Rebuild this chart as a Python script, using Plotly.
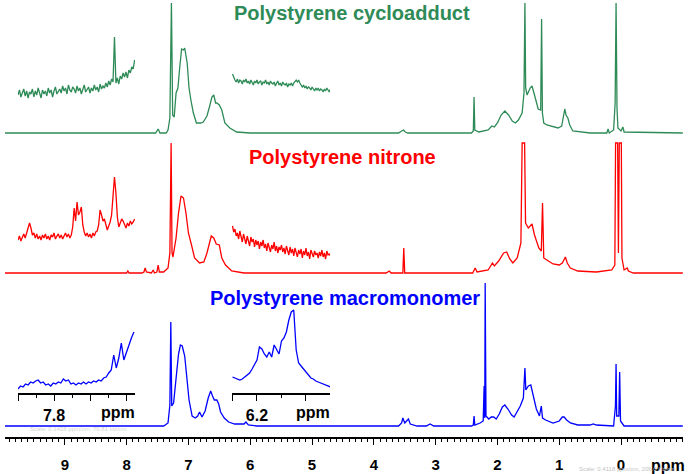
import plotly.graph_objects as go

# ---------------- data (ppm, intensity above each trace's baseline) ----------------
GREEN = [(9.97, 0), (7.53, 0), (7.49, 4), (7.46, 0), (7.36, 0), (7.33, 3), (7.30, 15), (7.275, 130),
         (7.255, 18), (7.23, 16), (7.20, 40), (7.17, 45), (7.14, 66), (7.11, 84), (7.08, 83), (7.06, 85),
         (7.02, 70), (6.99, 45), (6.96, 33), (6.92, 20), (6.87, 10), (6.80, 10), (6.76, 11), (6.70, 17),
         (6.66, 26), (6.62, 36), (6.59, 38), (6.56, 30), (6.54, 30), (6.50, 28), (6.46, 23), (6.41, 10),
         (6.33, 5), (6.22, 1), (6.0, 0), (3.60, 0), (3.55, 2), (3.52, 3), (3.49, 1), (3.45, 0),
         (2.42, 0), (2.39, 2), (2.378, 36), (2.366, 3), (2.30, 1), (2.15, 3), (2.09, 7), (2.05, 6),
         (2.00, 10), (1.94, 18), (1.88, 22), (1.82, 18), (1.76, 12), (1.71, 10), (1.66, 13), (1.60, 20),
         (1.57, 40), (1.555, 130), (1.543, 45), (1.52, 38), (1.47, 45), (1.44, 47), (1.40, 38), (1.34, 24),
         (1.30, 23), (1.285, 114), (1.272, 20), (1.25, 10), (1.20, 8), (1.10, 6), (1.02, 5), (0.96, 7),
         (0.93, 20), (0.91, 24), (0.89, 18), (0.86, 15), (0.83, 8), (0.78, 2), (0.5, 0), (0.23, 0),
         (0.21, 4), (0.19, 0), (0.12, 3), (0.095, 30), (0.08, 130), (0.065, 25), (0.05, 5), (0.0, 2),
         (-0.03, 6), (-0.05, 1), (-1.0, 0)]

RED = [(9.97, 0), (8.00, 0), (7.98, 2), (7.96, 0), (7.75, 0), (7.72, 1), (7.70, 5), (7.68, 1),
       (7.60, 0), (7.57, 3), (7.55, 0), (7.51, 1), (7.49, 8), (7.47, 1), (7.40, 1), (7.33, 5),
       (7.30, 20), (7.28, 130), (7.265, 20), (7.25, 16), (7.20, 35), (7.16, 60), (7.12, 77), (7.08, 75),
       (7.04, 60), (7.00, 40), (6.95, 28), (6.90, 15), (6.82, 10), (6.75, 11), (6.70, 20), (6.63, 37),
       (6.59, 35), (6.55, 29), (6.50, 28), (6.46, 15), (6.40, 8), (6.30, 2), (6.10, 0), (3.80, 0),
       (3.75, 2), (3.72, 0), (3.53, 0), (3.515, 25), (3.50, 0), (2.40, 0), (2.36, 5), (2.33, 1),
       (2.15, 3), (2.08, 10), (2.05, 7), (1.98, 12), (1.90, 20), (1.85, 21), (1.80, 14), (1.75, 10),
       (1.68, 15), (1.62, 30), (1.60, 130), (1.56, 130), (1.545, 50), (1.50, 45), (1.44, 49), (1.40, 38),
       (1.33, 25), (1.29, 22), (1.27, 70), (1.25, 15), (1.20, 13), (1.10, 9), (1.00, 8), (0.95, 10),
       (0.90, 16), (0.87, 10), (0.82, 5), (0.70, 2), (0.40, 1), (0.15, 3), (0.10, 8), (0.088, 130),
       (0.055, 130), (0.042, 20), (0.028, 130), (-0.005, 130), (-0.015, 15), (-0.05, 3), (-0.10, 5),
       (-0.12, 2), (-0.2, 0), (-1.0, 0)]

BLUE = [(9.97, 0), (7.40, 0), (7.33, 3), (7.30, 21), (7.285, 104), (7.27, 20), (7.24, 23), (7.20, 45),
        (7.16, 72), (7.13, 81), (7.10, 80), (7.06, 70), (7.02, 48), (6.99, 26), (6.94, 10), (6.89, 8),
        (6.85, 10), (6.82, 14), (6.78, 9), (6.73, 15), (6.68, 28), (6.64, 35), (6.61, 30), (6.58, 26),
        (6.54, 26), (6.51, 22), (6.48, 14), (6.42, 8), (6.35, 4), (6.25, 2), (6.10, 2), (6.07, 4),
        (6.03, 1), (5.9, 0), (3.60, 0), (3.55, 3), (3.53, 8), (3.50, 3), (3.47, 5), (3.44, 7),
        (3.41, 2), (3.30, 0), (3.15, 0), (3.09, 2), (3.03, 0), (2.42, 0), (2.39, 1), (2.378, 10),
        (2.366, 1), (2.28, 3), (2.23, 5), (2.215, 40), (2.205, 8), (2.198, 143), (2.185, 10), (2.14, 7),
        (2.10, 9), (2.06, 9), (2.02, 7), (1.97, 12), (1.92, 19), (1.88, 21), (1.83, 17), (1.77, 11),
        (1.73, 9), (1.68, 14), (1.63, 20), (1.58, 28), (1.555, 58), (1.54, 36), (1.50, 40), (1.46, 41),
        (1.42, 30), (1.37, 17), (1.32, 10), (1.29, 20), (1.27, 8), (1.22, 6), (1.10, 3), (1.00, 5),
        (0.95, 9), (0.92, 9), (0.88, 6), (0.82, 3), (0.70, 1), (0.50, 1), (0.45, 2), (0.40, 1),
        (0.12, 0), (0.09, 20), (0.08, 62), (0.07, 10), (0.035, 10), (0.022, 54), (0.008, 5), (-0.05, 0),
        (-1.0, 0)]

# expanded insets: sample positions (ppm)
INSET_L_PPM = [7.900, 7.893, 7.886, 7.879, 7.872, 7.865, 7.858, 7.851, 7.844, 7.837, 7.830, 7.823,
               7.816, 7.809, 7.802, 7.795, 7.788, 7.781, 7.774, 7.767, 7.760, 7.753, 7.746, 7.739,
               7.732, 7.725, 7.718, 7.711, 7.704, 7.697, 7.690, 7.683, 7.676, 7.669, 7.662, 7.655,
               7.648, 7.641, 7.634, 7.627, 7.620, 7.613, 7.606, 7.599, 7.592, 7.585, 7.578]
INSET_R_PPM = [6.30, 6.29, 6.28, 6.27, 6.26, 6.25, 6.24, 6.23, 6.22, 6.21, 6.20, 6.19, 6.18, 6.17,
               6.16, 6.15, 6.14, 6.13, 6.12, 6.11, 6.10, 6.09, 6.08, 6.07, 6.06, 6.05, 6.04, 6.03,
               6.02, 6.01, 6.00, 5.99, 5.98, 5.97, 5.96, 5.95, 5.94, 5.93, 5.92, 5.91, 5.90]
INSET_L_DENSE = [7.900, 7.896, 7.892, 7.888, 7.884, 7.880, 7.876, 7.872, 7.868, 7.864,
                 7.860, 7.856, 7.852, 7.848, 7.844, 7.840, 7.836, 7.832, 7.828, 7.824,
                 7.820, 7.816, 7.812, 7.808, 7.804, 7.800, 7.796, 7.792, 7.788, 7.784,
                 7.780, 7.776, 7.772, 7.768, 7.764, 7.760, 7.756, 7.752, 7.748, 7.744,
                 7.740, 7.736, 7.732, 7.728, 7.724, 7.720, 7.716, 7.712, 7.708, 7.704,
                 7.700, 7.696, 7.692, 7.688, 7.684, 7.680, 7.676, 7.672, 7.668, 7.664,
                 7.660, 7.656, 7.652, 7.648, 7.644, 7.640, 7.636, 7.632, 7.628, 7.624,
                 7.620, 7.616, 7.612, 7.608, 7.604, 7.600, 7.596, 7.592, 7.588, 7.584,
                 7.580, 7.576]
INSET_R_DENSE = [6.300, 6.295, 6.290, 6.285, 6.280, 6.275, 6.270, 6.265, 6.260, 6.255,
                 6.250, 6.245, 6.240, 6.235, 6.230, 6.225, 6.220, 6.215, 6.210, 6.205,
                 6.200, 6.195, 6.190, 6.185, 6.180, 6.175, 6.170, 6.165, 6.160, 6.155,
                 6.150, 6.145, 6.140, 6.135, 6.130, 6.125, 6.120, 6.115, 6.110, 6.105,
                 6.100, 6.095, 6.090, 6.085, 6.080, 6.075, 6.070, 6.065, 6.060, 6.055,
                 6.050, 6.045, 6.040, 6.035, 6.030, 6.025, 6.020, 6.015, 6.010, 6.005,
                 6.000, 5.995, 5.990, 5.985, 5.980, 5.975, 5.970, 5.965, 5.960, 5.955,
                 5.950, 5.945, 5.940, 5.935, 5.930, 5.925, 5.920, 5.915, 5.910, 5.905,
                 5.900]

# expanded insets: intensities
GREEN_L = [5, 10, 3, 7, 11, 4, 9, 2, 8, 6,
           11, 3, 9, 5, 12, 7, 2, 10, 6, 9,
           4, 12, 7, 10, 3, 9, 13, 6, 8, 11,
           7, 14, 9, 12, 6, 15, 10, 8, 13, 11,
           7, 14, 9, 12, 6, 11, 15, 8, 10, 13,
           7, 12, 9, 15, 10, 13, 8, 16, 11, 14,
           12, 17, 13, 19, 15, 21, 18, 63,
           17, 22, 16, 24, 21, 27, 23, 28, 22, 30, 27, 33, 31, 40]
RED_L = [5, 9, 4, 8, 11, 7, 12, 16, 22, 17,
         10, 12, 7, 11, 6, 9, 5, 10, 7, 11,
         6, 9, 5, 10, 8, 12, 6, 9, 11, 7,
         10, 6, 9, 12, 8, 11, 7, 10, 18, 37,
         24, 43, 30, 33, 38, 20, 13, 9, 12, 8,
         11, 7, 12, 9, 13, 14, 20, 35, 30, 24,
         26, 20, 15, 19, 23, 30, 48, 68, 52, 28,
         18, 22, 26, 24, 20, 17, 22, 19, 24, 21, 23, 26]
BLUE_L = [1, 4, 3, 6, 5, 8, 7, 9, 10, 7, 8, 5, 6, 4, 7, 6, 8, 7, 11, 9, 10, 6, 7, 5,
          7, 6, 8, 6, 8, 7, 9, 8, 10, 9, 12, 13, 17, 20, 35, 22, 32, 47, 30, 38, 44, 52, 58]
GREEN_R = [21, 17, 15, 13, 16, 12, 15, 14, 11, 15,
           13, 16, 12, 14, 11, 15, 13, 10, 14, 12,
           15, 11, 13, 14, 10, 13, 12, 15, 11, 13,
           10, 14, 12, 11, 13, 9, 12, 14, 10, 12,
           9, 13, 11, 10, 12, 8, 11, 10, 12, 9,
           12, 14, 15, 13, 15, 12, 10, 8, 10, 7,
           9, 6, 8, 7, 5, 8, 6, 4, 7, 5,
           7, 4, 6, 5, 3, 6, 4, 7, 5, 3, 6]
RED_R = [34, 28, 31, 24, 27, 21, 29, 23, 18, 26,
         22, 16, 24, 19, 14, 23, 18, 21, 13, 20,
         15, 19, 11, 18, 14, 20, 12, 16, 9, 17,
         13, 8, 15, 11, 18, 9, 14, 7, 13, 10,
         15, 8, 12, 6, 14, 10, 5, 13, 7, 11,
         4, 12, 8, 3, 10, 6, 11, 2, 9, 5,
         12, 4, 8, 1, 10, 6, 3, 9, 5, 7,
         2, 8, 4, 10, 3, 7, 1, 9, 5, 6, 4]
BLUE_R = [13, 12, 11, 10, 11, 13, 15, 17, 21, 25, 30, 43, 41, 36, 33, 38, 33, 45, 40, 36, 49,
          52, 58, 70, 78, 80, 40, 27, 24, 21, 18, 14, 12, 11, 9, 8, 7, 6, 5, 4, 3]

TITLES = ["Polystyrene cycloadduct", "Polystyrene nitrone", "Polystyrene macromonomer"]
MAIN_TICKS = [9, 8, 7, 6, 5, 4, 3, 2, 1, 0]

# ---------------- styling / layout ----------------
W, H = 688, 474
GREEN_C, RED_C, BLUE_C = "#2e8b57", "#ff0000", "#0000ff"
FONT = "Liberation Sans"


def up(px):
    """convert a distance from top of figure (px) into y-axis units"""
    return H - px


fig = go.Figure()

series = [
    (GREEN, GREEN_C, up(133), (INSET_L_DENSE, GREEN_L), up(100), (INSET_R_DENSE, GREEN_R), up(95)),
    (RED, RED_C, up(273), (INSET_L_DENSE, RED_L), up(245), (INSET_R_DENSE, RED_R), up(260)),
    (BLUE, BLUE_C, up(426), (INSET_L_PPM, BLUE_L), up(390), (INSET_R_PPM, BLUE_R), up(390)),
]

for data, col, base, left, lbase, right, rbase in series:
    fig.add_trace(go.Scatter(x=[p for p, _ in data], y=[base + v for _, v in data],
                             mode="lines", line=dict(color=col, width=1.3),
                             xaxis="x", yaxis="y", hoverinfo="skip", showlegend=False))
    fig.add_trace(go.Scatter(x=left[0], y=[lbase + v for v in left[1]],
                             mode="lines", line=dict(color=col, width=1.3),
                             xaxis="x2", yaxis="y", hoverinfo="skip", showlegend=False))
    fig.add_trace(go.Scatter(x=right[0], y=[rbase + v for v in right[1]],
                             mode="lines", line=dict(color=col, width=1.3),
                             xaxis="x3", yaxis="y", hoverinfo="skip", showlegend=False))

bold = dict(family=FONT, color="black", weight="bold")

fig.update_layout(
    width=W, height=H, margin=dict(l=0, r=0, t=0, b=0),
    paper_bgcolor="white", plot_bgcolor="rgba(0,0,0,0)",
    showlegend=False,
    xaxis=dict(domain=[5 / W, 683 / W], range=[9.968, -1.003], anchor="free",
               position=(H - 437.5) / H, showline=True, linecolor="black", linewidth=1.5,
               ticks="outside", tickvals=MAIN_TICKS, ticklen=7, tickwidth=1.2, tickcolor="black",
               minor=dict(dtick=0.1, ticks="outside", ticklen=4, tickcolor="black", tickwidth=1),
               showgrid=False, zeroline=False, ticklabelstandoff=7,
               tickfont=dict(size=15, **bold)),
    xaxis2=dict(domain=[18 / W, 135 / W], range=[7.9, 7.575], anchor="free",
                position=(H - 394) / H, showline=True, linecolor="black", linewidth=1.5,
                ticks="outside", tickvals=[7.9, 7.8, 7.7, 7.6], ticktext=["", "7.8", "", ""],
                ticklen=6, tickwidth=1.2, tickcolor="black",
                minor=dict(tickvals=[7.85, 7.75, 7.65], ticks="outside", ticklen=3,
                           tickcolor="black", tickwidth=1),
                showgrid=False, zeroline=False, ticklabelstandoff=1,
                tickfont=dict(size=16, **bold)),
    xaxis3=dict(domain=[232 / W, 330 / W], range=[6.302, 5.902], anchor="free",
                position=(H - 394) / H, showline=True, linecolor="black", linewidth=1.5,
                ticks="outside", tickvals=[6.3, 6.2, 6.0], ticktext=["", "6.2", ""],
                ticklen=6, tickwidth=1.2, tickcolor="black",
                minor=dict(tickvals=[6.1], ticks="outside", ticklen=3,
                           tickcolor="black", tickwidth=1),
                showgrid=False, zeroline=False, ticklabelstandoff=1,
                tickfont=dict(size=16, **bold)),
    yaxis=dict(domain=[0, 1], range=[0, H], visible=False, showgrid=False, zeroline=False),
)

ann = [
    (TITLES[0], 352, 13, GREEN_C, 20),
    (TITLES[1], 342, 157, RED_C, 20),
    (TITLES[2], 345, 298, BLUE_C, 20),
    ("ppm", 668, 465, "black", 16),
    ("ppm", 118, 412, "black", 16),
    ("ppm", 313, 412, "black", 16),
]
for text, x, y, col, size in ann:
    fig.add_annotation(text=text, x=x / W, y=up(y) / H, xref="paper", yref="paper",
                       showarrow=False, xanchor="center", yanchor="middle",
                       font=dict(family=FONT, size=size, color=col, weight="bold"))

fig.add_annotation(text="Scale: 0.4118 ppm/cm, 206.0 Hz/cm", x=627 / W, y=0,
                   xref="paper", yref="paper", showarrow=False, xanchor="center", yanchor="bottom",
                   font=dict(family=FONT, size=6, color="#c4c4c4"))
fig.add_annotation(text="Scale: 0.1416 ppm/cm, 70.81 Hz/cm", x=78 / W, y=up(429) / H,
                   xref="paper", yref="paper", showarrow=False, xanchor="center", yanchor="middle",
                   font=dict(family=FONT, size=6, color="#d4d4d4"))

fig.write_html("out.html", config={"displayModeBar": False},
               post_script="document.body.style.margin='0';document.body.style.overflow='hidden';")
